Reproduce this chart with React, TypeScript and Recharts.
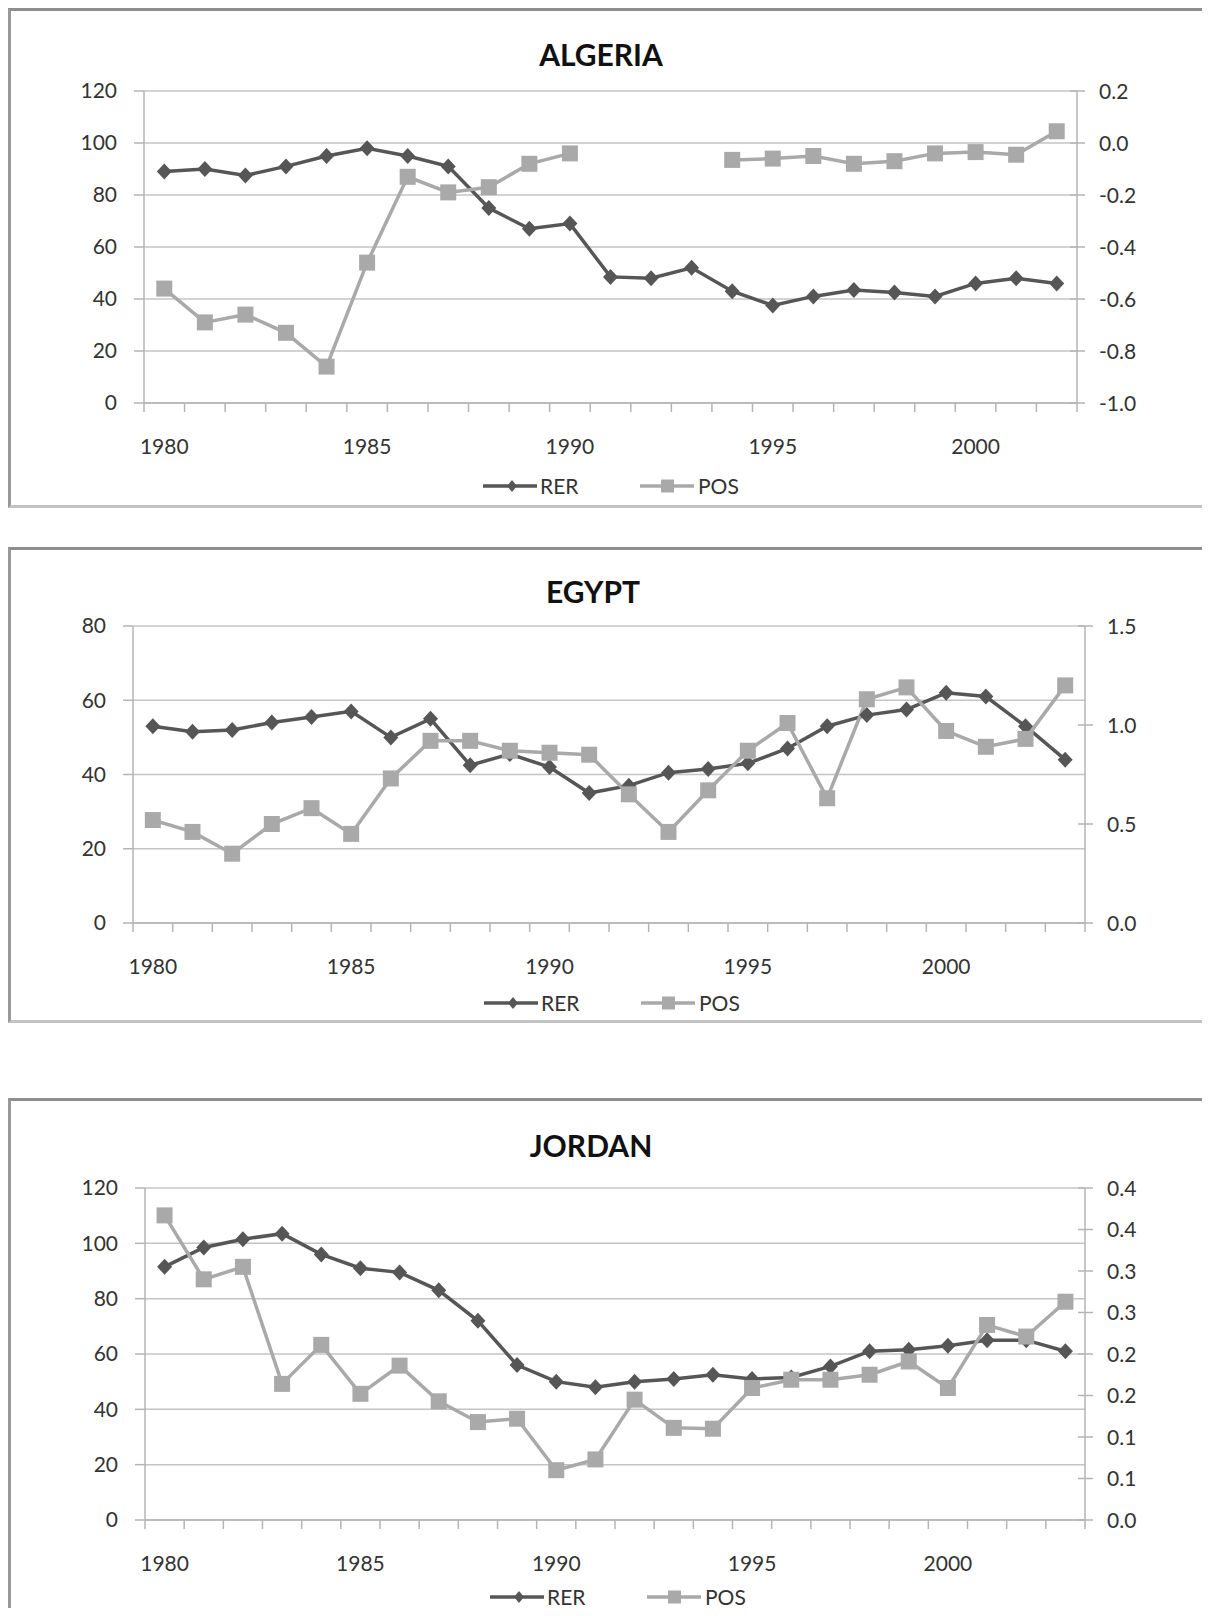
import React from "react";
import { CartesianGrid, Line, LineChart, XAxis, YAxis } from "recharts";

// ---- data ----
const algeriaYears = [
  1980, 1981, 1982, 1983, 1984, 1985, 1986, 1987, 1988, 1989, 1990, 1991,
  1992, 1993, 1994, 1995, 1996, 1997, 1998, 1999, 2000, 2001, 2002,
];
const algeriaRER = [
  89, 90, 87.5, 91, 95, 98, 95, 91, 75, 67, 69, 48.5, 48, 52, 43, 37.5, 41,
  43.5, 42.5, 41, 46, 48, 46,
];
const algeriaPOS = [
  -0.56, -0.69, -0.66, -0.73, -0.86, -0.46, -0.13, -0.19, -0.17, -0.08, -0.04,
  null, null, null, -0.065, -0.06, -0.05, -0.08, -0.07, -0.04, -0.035, -0.045,
  0.045,
];
const algeriaLeftTicks = [0, 20, 40, 60, 80, 100, 120];
const algeriaRightTicks = [-1, -0.8, -0.6, -0.4, -0.2, 0, 0.2];
const algeriaRightLabels = ["-1.0", "-0.8", "-0.6", "-0.4", "-0.2", "0.0", "0.2"];

const egyptYears = [
  1980, 1981, 1982, 1983, 1984, 1985, 1986, 1987, 1988, 1989, 1990, 1991,
  1992, 1993, 1994, 1995, 1996, 1997, 1998, 1999, 2000, 2001, 2002, 2003,
];
const egyptRER = [
  53, 51.5, 52, 54, 55.5, 57, 50, 55, 42.5, 45.5, 42, 35, 37, 40.5, 41.5, 43,
  47, 53, 56, 57.5, 62, 61, 53, 44,
];
const egyptPOS = [
  0.52, 0.46, 0.35, 0.5, 0.58, 0.45, 0.73, 0.92, 0.92, 0.87, 0.86, 0.85, 0.65,
  0.46, 0.67, 0.87, 1.01, 0.63, 1.13, 1.19, 0.97, 0.89, 0.93, 1.2,
];
const egyptLeftTicks = [0, 20, 40, 60, 80];
const egyptRightTicks = [0, 0.5, 1, 1.5];
const egyptRightLabels = ["0.0", "0.5", "1.0", "1.5"];

const jordanYears = [
  1980, 1981, 1982, 1983, 1984, 1985, 1986, 1987, 1988, 1989, 1990, 1991,
  1992, 1993, 1994, 1995, 1996, 1997, 1998, 1999, 2000, 2001, 2002, 2003,
];
const jordanRER = [
  91.5, 98.5, 101.5, 103.5, 96, 91, 89.5, 83, 72, 56, 50, 48, 50, 51, 52.5, 51,
  51.5, 55.5, 61, 61.5, 63, 65, 65, 61,
];
const jordanPOS = [
  0.367, 0.29, 0.305, 0.164, 0.211, 0.152, 0.186, 0.143, 0.118, 0.122, 0.06,
  0.073, 0.145, 0.111, 0.11, 0.159, 0.169, 0.169, 0.175, 0.191, 0.159, 0.235,
  0.221, 0.263,
];
const jordanLeftTicks = [0, 20, 40, 60, 80, 100, 120];
const jordanRightTicks = [0, 0.05, 0.1, 0.15, 0.2, 0.25, 0.3, 0.35, 0.4];
const jordanRightLabels = ["0.0", "0.1", "0.1", "0.2", "0.2", "0.3", "0.3", "0.4", "0.4"];

// ---- styling ----
const FONT = "Lato, 'Noto Sans', sans-serif";
const TEXT = "#333";
const GRID = "#c4c4c4";
const AXIS = "#b4b4b4";
const RER_COLOR = "#565656";
const POS_COLOR = "#a9a9a9";
const PANEL_W = 1200;
const BORDER = 3;
const YW = 60;
const XH = 40;
const TICK_FONT = 21;
const RT_SIZE = 8;
const RT_MARGIN = 14;

type Box = {
  top: number;
  height: number;
  plotL: number;
  plotR: number;
  plotT: number;
  plotB: number;
  titleX: number;
  titleY: number;
  legendY: number;
  legendX: number;
};

type PanelProps = {
  title: string;
  years: number[];
  rer: number[];
  pos: (number | null)[];
  leftTicks: number[];
  rightTicks: number[];
  rightLabels: string[];
  box: Box;
};

function Diamond(props: any) {
  const { cx, cy, index } = props;
  if (cx == null || cy == null) return <g key={index} />;
  return (
    <path
      key={index}
      d={`M${cx},${cy - 8}L${cx + 7.5},${cy}L${cx},${cy + 8}L${cx - 7.5},${cy}Z`}
      fill={RER_COLOR}
    />
  );
}

function Square(props: any) {
  const { cx, cy, index } = props;
  if (cx == null || cy == null) return <g key={index} />;
  return <rect key={index} x={cx - 8} y={cy - 8} width={16} height={16} fill={POS_COLOR} />;
}

function Panel({ title, years, rer, pos, leftTicks, rightTicks, rightLabels, box }: PanelProps) {
  const data = years.map((year, i) => ({ year, rer: rer[i], pos: pos[i] }));
  const ox = 8 + BORDER;
  const oy = box.top + BORDER;
  const cw = PANEL_W - 2 * BORDER;
  const ch = box.height - 2 * BORDER;
  const L = box.plotL - ox;
  const R = box.plotR - ox;
  const T = box.plotT - oy;
  const B = box.plotB - oy;
  const margin = { left: L - YW, right: cw - R - YW, top: T, bottom: ch - B - XH };
  const band = (R - L) / years.length;
  const first = years[0];
  const last = years[years.length - 1];

  const xTick = (p: any) => {
    const { x, y, payload } = p;
    const left = x - band / 2;
    return (
      <g>
        <line x1={left} x2={left} y1={y} y2={y + 9} stroke={AXIS} strokeWidth={1.5} />
        {payload.value === last && (
          <line x1={x + band / 2} x2={x + band / 2} y1={y} y2={y + 9} stroke={AXIS} strokeWidth={1.5} />
        )}
        {payload.value % 5 === 0 && (
          <text x={x} y={y + 43} dy="0.36em" textAnchor="middle" fill={TEXT} fontSize={TICK_FONT} fontFamily={FONT}>
            {payload.value}
          </text>
        )}
      </g>
    );
  };

  const rightTick = (p: any) => {
    const { x, y, payload } = p;
    const ax = x - RT_SIZE - RT_MARGIN;
    const label = rightLabels[rightTicks.indexOf(payload.value)];
    return (
      <g>
        <line x1={ax - 7} x2={ax + 8} y1={y} y2={y} stroke={AXIS} strokeWidth={1.5} />
        <text x={x} y={y} dy="0.36em" textAnchor="start" fill={TEXT} fontSize={TICK_FONT} fontFamily={FONT}>
          {label}
        </text>
      </g>
    );
  };

  const lx = box.legendX;
  const ly = box.legendY - oy;

  return (
    <div
      style={{
        position: "absolute",
        left: 0,
        top: box.top - 8,
        width: PANEL_W,
        height: box.height,
        boxSizing: "border-box",
        background: "#fff",
        borderTop: `${BORDER}px solid #8e8e8e`,
        borderLeft: `${BORDER}px solid #999`,
        borderRight: `${BORDER}px solid #a8a8a8`,
        borderBottom: `${BORDER}px solid #c2c2c2`,
      }}
    >
      <LineChart
        width={cw}
        height={ch}
        data={data}
        margin={margin}
        style={{ position: "absolute", left: 0, top: 0 }}
      >
        <CartesianGrid yAxisId="left" vertical={false} stroke={GRID} strokeWidth={1.5} />
        <XAxis
          dataKey="year"
          type="number"
          domain={[first - 0.5, last + 0.5]}
          ticks={years}
          interval={0}
          height={XH}
          axisLine={{ stroke: AXIS, strokeWidth: 1.5 }}
          tickLine={false}
          tickSize={0}
          tickMargin={0}
          tick={xTick}
        />
        <YAxis
          yAxisId="left"
          width={YW}
          domain={[leftTicks[0], leftTicks[leftTicks.length - 1]]}
          ticks={leftTicks}
          interval={0}
          axisLine={{ stroke: AXIS, strokeWidth: 1.5 }}
          tickLine={{ stroke: AXIS, strokeWidth: 1.5 }}
          tickSize={10}
          tickMargin={17}
          tick={{ fill: TEXT, fontSize: TICK_FONT, fontFamily: FONT }}
        />
        <YAxis
          yAxisId="right"
          orientation="right"
          width={YW}
          domain={[rightTicks[0], rightTicks[rightTicks.length - 1]]}
          ticks={rightTicks}
          interval={0}
          axisLine={{ stroke: AXIS, strokeWidth: 1.5 }}
          tickLine={false}
          tickSize={RT_SIZE}
          tickMargin={RT_MARGIN}
          tick={rightTick}
        />
        <Line
          yAxisId="left"
          dataKey="rer"
          name="RER"
          type="linear"
          stroke={RER_COLOR}
          strokeWidth={3.5}
          dot={Diamond}
          activeDot={false}
          isAnimationActive={false}
        />
        <Line
          yAxisId="right"
          dataKey="pos"
          name="POS"
          type="linear"
          stroke={POS_COLOR}
          strokeWidth={3.5}
          dot={Square}
          activeDot={false}
          isAnimationActive={false}
        />
      </LineChart>
      <svg
        width={cw}
        height={ch}
        style={{ position: "absolute", left: 0, top: 0, pointerEvents: "none" }}
      >
        <text
          x={box.titleX - ox}
          y={box.titleY - oy}
          textAnchor="middle"
          fontFamily={FONT}
          fontWeight={700}
          fontSize={30}
          fill="#111"
        >
          {title}
        </text>
        <line x1={lx - 11} x2={lx + 43} y1={ly} y2={ly} stroke={RER_COLOR} strokeWidth={3.5} />
        <path d={`M${lx + 18},${ly - 6}L${lx + 23},${ly}L${lx + 18},${ly + 6}L${lx + 13},${ly}Z`} fill={RER_COLOR} />
        <text x={lx + 46} y={ly} dy="0.36em" fontFamily={FONT} fontSize={TICK_FONT} fill={TEXT}>
          RER
        </text>
        <line x1={lx + 146} x2={lx + 200} y1={ly} y2={ly} stroke={POS_COLOR} strokeWidth={3.5} />
        <rect x={lx + 167} y={ly - 6.5} width={13} height={13} fill={POS_COLOR} />
        <text x={lx + 204} y={ly} dy="0.36em" fontFamily={FONT} fontSize={TICK_FONT} fill={TEXT}>
          POS
        </text>
      </svg>
    </div>
  );
}

const algeriaBox: Box = {
  top: 8, height: 500, plotL: 144, plotR: 1077, plotT: 91, plotB: 403,
  titleX: 601, titleY: 66, legendY: 486, legendX: 483,
};
const egyptBox: Box = {
  top: 547, height: 476, plotL: 133, plotR: 1085, plotT: 626, plotB: 923,
  titleX: 593, titleY: 603, legendY: 1003, legendX: 484,
};
const jordanBox: Box = {
  top: 1098, height: 540, plotL: 145, plotR: 1085, plotT: 1188, plotB: 1520,
  titleX: 591, titleY: 1157, legendY: 1597, legendX: 490,
};

export default function App() {
  return (
    <div style={{ position: "relative", width: 1200, height: 1600, overflow: "hidden", fontFamily: FONT }}>
      <Panel
        title="ALGERIA"
        years={algeriaYears}
        rer={algeriaRER}
        pos={algeriaPOS}
        leftTicks={algeriaLeftTicks}
        rightTicks={algeriaRightTicks}
        rightLabels={algeriaRightLabels}
        box={algeriaBox}
      />
      <Panel
        title="EGYPT"
        years={egyptYears}
        rer={egyptRER}
        pos={egyptPOS}
        leftTicks={egyptLeftTicks}
        rightTicks={egyptRightTicks}
        rightLabels={egyptRightLabels}
        box={egyptBox}
      />
      <Panel
        title="JORDAN"
        years={jordanYears}
        rer={jordanRER}
        pos={jordanPOS}
        leftTicks={jordanLeftTicks}
        rightTicks={jordanRightTicks}
        rightLabels={jordanRightLabels}
        box={jordanBox}
      />
    </div>
  );
}
